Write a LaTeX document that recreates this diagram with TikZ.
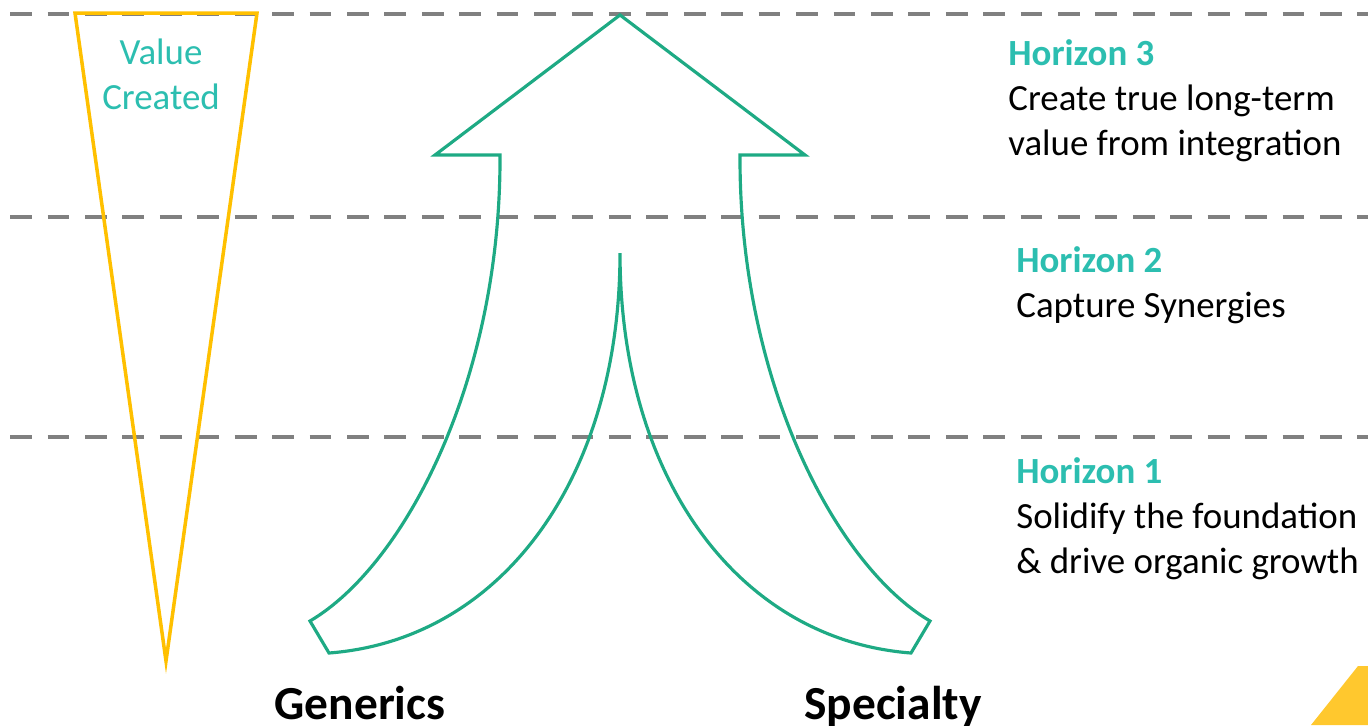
\documentclass[tikz,border=0pt]{standalone}
\usepackage{fontspec}
\setmainfont{Carlito}
\usepackage{tikz}

\definecolor{horizongray}{RGB}{128,128,128}
\definecolor{valueyellow}{RGB}{255,192,0}
\definecolor{cornergold}{RGB}{255,200,46}
\definecolor{arrowgreen}{RGB}{30,170,132}
\definecolor{labelteal}{RGB}{44,190,176}

\tikzset{
	horizon/.style={draw=horizongray, line width=2.8pt, dash pattern=on 12.4pt off 8.9pt, dash phase=15.5pt},
	textblock/.style={anchor=base west, align=left, inner sep=0pt, font=\fontsize{21}{25.5}\selectfont},
	market/.style={anchor=base, inner sep=0pt, font=\fontsize{27}{32}\selectfont\bfseries}
}

\begin{document}
\begin{tikzpicture}[x=0.02cm, y=-0.02cm]
	\useasboundingbox (0,0) rectangle (1368,725);

	% Horizon separators
	\foreach \y in {14,217,437}
		\draw[horizon] (0,\y) -- (1368,\y);

	% Value created wedge
	\draw[valueyellow, line width=2pt, line join=miter] (75,13) -- (257,13) -- (166,661) -- cycle;
	% (base anchor sits on the last line)
	\node[anchor=base, align=center, inner sep=0pt, text=labelteal, font=\fontsize{21}{25.5}\selectfont] (value) at (161,109) {Value\\Created};

	% Merging arrow: left branch, right branch, common head
	\draw[arrowgreen, line width=1.8pt, line join=miter]
		(620,15) -- (805,155) -- (740,155)
		.. controls (739,380) and (835,565) .. (930,621)
		-- (911,653)
		.. controls (740,640) and (620,480) .. (620,253)
		.. controls (620,480) and (500,640) .. (329,653)
		-- (310,621)
		.. controls (405,565) and (501,380) .. (500,155)
		-- (435,155) -- cycle;

	% Horizon labels
	\node[textblock] (h3) at (1008,155) {\textbf{\color{labelteal}Horizon 3}\\Create true long-term\\value from integration};
	\node[textblock] (h2) at (1016,317) {\textbf{\color{labelteal}Horizon 2}\\Capture Synergies};
	\node[textblock] (h1) at (1016,573) {\textbf{\color{labelteal}Horizon 1}\\Solidify the foundation\\\& drive organic growth};

	% Business lines
	\node[market] (generics) at (360,719) {Generics};
	\node[market] (specialty) at (893,719) {Specialty};

	% Corner accent
	\fill[cornergold] (1311,725) -- (1358,666) -- (1368,666) -- (1368,725) -- cycle;
\end{tikzpicture}
\end{document}
